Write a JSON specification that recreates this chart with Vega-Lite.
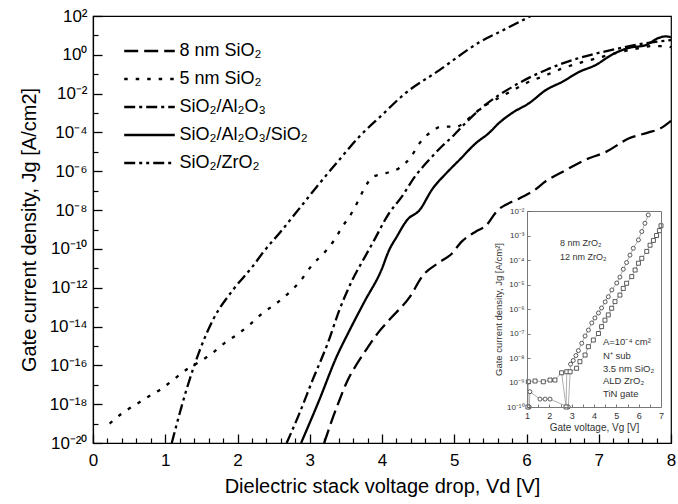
{
  "$schema": "https://vega.github.io/schema/vega-lite/v6.json",
  "width": 578,
  "height": 427,
  "autosize": {"type": "none"},
  "padding": {"left": 93, "top": 16, "right": 7, "bottom": 61},
  "config": {
    "font": "Liberation Sans",
    "view": {"stroke": "black", "strokeWidth": 1.2},
    "axis": {"grid": false, "domainColor": "black", "labelColor": "black", "titleColor": "black", "titleFontWeight": "normal", "labelFont": "Liberation Sans", "titleFont": "Liberation Sans"},
    "legend": {"labelFont": "Liberation Sans", "labelColor": "black"}
  },
  "datasets": {
    "main": [
      {"s": "8 nm SiO₂", "V": 3.2, "J": 1e-20}, {"s": "8 nm SiO₂", "V": 3.3, "J": 1.26e-19}, {"s": "8 nm SiO₂", "V": 3.41, "J": 1.58e-18}, {"s": "8 nm SiO₂", "V": 3.52, "J": 1.58e-17}, {"s": "8 nm SiO₂", "V": 3.64, "J": 1e-16}, {"s": "8 nm SiO₂", "V": 3.78, "J": 6.31e-16}, {"s": "8 nm SiO₂", "V": 3.95, "J": 5.01e-15}, {"s": "8 nm SiO₂", "V": 4.14, "J": 3.16e-14}, {"s": "8 nm SiO₂", "V": 4.38, "J": 3.16e-13}, {"s": "8 nm SiO₂", "V": 4.56, "J": 3.98e-12}, {"s": "8 nm SiO₂", "V": 4.79, "J": 2e-11}, {"s": "8 nm SiO₂", "V": 4.95, "J": 5.01e-11}, {"s": "8 nm SiO₂", "V": 5.11, "J": 2.51e-10}, {"s": "8 nm SiO₂", "V": 5.3, "J": 7.94e-10}, {"s": "8 nm SiO₂", "V": 5.44, "J": 1.58e-9}, {"s": "8 nm SiO₂", "V": 5.58, "J": 7.94e-9}, {"s": "8 nm SiO₂", "V": 5.9, "J": 3.98e-8}, {"s": "8 nm SiO₂", "V": 6.1, "J": 1e-7}, {"s": "8 nm SiO₂", "V": 6.27, "J": 3.16e-7}, {"s": "8 nm SiO₂", "V": 6.49, "J": 8.91e-7}, {"s": "8 nm SiO₂", "V": 6.82, "J": 3.98e-6}, {"s": "8 nm SiO₂", "V": 7.1, "J": 1e-5}, {"s": "8 nm SiO₂", "V": 7.42, "J": 5.01e-5}, {"s": "8 nm SiO₂", "V": 7.69, "J": 1e-4}, {"s": "8 nm SiO₂", "V": 7.85, "J": 1.58e-4}, {"s": "8 nm SiO₂", "V": 8.0, "J": 3.98e-4},
      {"s": "5 nm SiO₂", "V": 0.23, "J": 1e-19}, {"s": "5 nm SiO₂", "V": 0.41, "J": 3.55e-19}, {"s": "5 nm SiO₂", "V": 0.6, "J": 1e-18}, {"s": "5 nm SiO₂", "V": 0.77, "J": 2.51e-18}, {"s": "5 nm SiO₂", "V": 0.95, "J": 6.31e-18}, {"s": "5 nm SiO₂", "V": 1.11, "J": 1.78e-17}, {"s": "5 nm SiO₂", "V": 1.3, "J": 6.31e-17}, {"s": "5 nm SiO₂", "V": 1.48, "J": 1.58e-16}, {"s": "5 nm SiO₂", "V": 1.64, "J": 3.98e-16}, {"s": "5 nm SiO₂", "V": 1.82, "J": 1.41e-15}, {"s": "5 nm SiO₂", "V": 2.0, "J": 3.98e-15}, {"s": "5 nm SiO₂", "V": 2.17, "J": 1.26e-14}, {"s": "5 nm SiO₂", "V": 2.35, "J": 5.01e-14}, {"s": "5 nm SiO₂", "V": 2.54, "J": 1.58e-13}, {"s": "5 nm SiO₂", "V": 2.7, "J": 5.01e-13}, {"s": "5 nm SiO₂", "V": 2.86, "J": 2e-12}, {"s": "5 nm SiO₂", "V": 3.04, "J": 1.58e-11}, {"s": "5 nm SiO₂", "V": 3.2, "J": 6.31e-11}, {"s": "5 nm SiO₂", "V": 3.34, "J": 2.88e-10}, {"s": "5 nm SiO₂", "V": 3.45, "J": 1.35e-9}, {"s": "5 nm SiO₂", "V": 3.58, "J": 7.08e-9}, {"s": "5 nm SiO₂", "V": 3.66, "J": 2.51e-8}, {"s": "5 nm SiO₂", "V": 3.76, "J": 1.38e-7}, {"s": "5 nm SiO₂", "V": 3.87, "J": 5.01e-7}, {"s": "5 nm SiO₂", "V": 4.06, "J": 8.13e-7}, {"s": "5 nm SiO₂", "V": 4.24, "J": 1.48e-6}, {"s": "5 nm SiO₂", "V": 4.4, "J": 5.5e-6}, {"s": "5 nm SiO₂", "V": 4.52, "J": 2.82e-5}, {"s": "5 nm SiO₂", "V": 4.68, "J": 1.07e-4}, {"s": "5 nm SiO₂", "V": 4.83, "J": 2e-4}, {"s": "5 nm SiO₂", "V": 5.03, "J": 2e-4}, {"s": "5 nm SiO₂", "V": 5.21, "J": 5.62e-4}, {"s": "5 nm SiO₂", "V": 5.39, "J": 2e-3}, {"s": "5 nm SiO₂", "V": 5.6, "J": 5.62e-3}, {"s": "5 nm SiO₂", "V": 5.8, "J": 1.41e-2}, {"s": "5 nm SiO₂", "V": 6.0, "J": 3.55e-2}, {"s": "5 nm SiO₂", "V": 6.27, "J": 8.91e-2}, {"s": "5 nm SiO₂", "V": 6.5, "J": 0.2}, {"s": "5 nm SiO₂", "V": 6.75, "J": 0.398}, {"s": "5 nm SiO₂", "V": 7.0, "J": 0.708}, {"s": "5 nm SiO₂", "V": 7.25, "J": 1.26}, {"s": "5 nm SiO₂", "V": 7.5, "J": 2.0}, {"s": "5 nm SiO₂", "V": 7.75, "J": 2.82}, {"s": "5 nm SiO₂", "V": 7.9, "J": 2.82}, {"s": "5 nm SiO₂", "V": 8.0, "J": 2.51},
      {"s": "SiO₂/Al₂O₃", "V": 2.68, "J": 1e-20}, {"s": "SiO₂/Al₂O₃", "V": 2.86, "J": 3.55e-19}, {"s": "SiO₂/Al₂O₃", "V": 3.04, "J": 1.78e-17}, {"s": "SiO₂/Al₂O₃", "V": 3.25, "J": 1.41e-15}, {"s": "SiO₂/Al₂O₃", "V": 3.41, "J": 7.08e-14}, {"s": "SiO₂/Al₂O₃", "V": 3.59, "J": 2.51e-12}, {"s": "SiO₂/Al₂O₃", "V": 3.75, "J": 3.16e-11}, {"s": "SiO₂/Al₂O₃", "V": 3.87, "J": 2e-10}, {"s": "SiO₂/Al₂O₃", "V": 4.1, "J": 7.08e-9}, {"s": "SiO₂/Al₂O₃", "V": 4.27, "J": 4.68e-8}, {"s": "SiO₂/Al₂O₃", "V": 4.47, "J": 6.31e-7}, {"s": "SiO₂/Al₂O₃", "V": 4.65, "J": 3.8e-6}, {"s": "SiO₂/Al₂O₃", "V": 4.82, "J": 1.78e-5}, {"s": "SiO₂/Al₂O₃", "V": 4.97, "J": 5.89e-5}, {"s": "SiO₂/Al₂O₃", "V": 5.17, "J": 3.47e-4}, {"s": "SiO₂/Al₂O₃", "V": 5.39, "J": 2e-3}, {"s": "SiO₂/Al₂O₃", "V": 5.8, "J": 2.19e-2}, {"s": "SiO₂/Al₂O₃", "V": 6.27, "J": 0.166}, {"s": "SiO₂/Al₂O₃", "V": 6.73, "J": 0.692}, {"s": "SiO₂/Al₂O₃", "V": 7.18, "J": 1.78}, {"s": "SiO₂/Al₂O₃", "V": 7.65, "J": 3.98}, {"s": "SiO₂/Al₂O₃", "V": 8.0, "J": 5.75},
      {"s": "SiO₂/Al₂O₃/SiO₂", "V": 2.88, "J": 1e-20}, {"s": "SiO₂/Al₂O₃/SiO₂", "V": 3.13, "J": 1.58e-18}, {"s": "SiO₂/Al₂O₃/SiO₂", "V": 3.37, "J": 2.69e-16}, {"s": "SiO₂/Al₂O₃/SiO₂", "V": 3.55, "J": 6.31e-15}, {"s": "SiO₂/Al₂O₃/SiO₂", "V": 3.76, "J": 2e-13}, {"s": "SiO₂/Al₂O₃/SiO₂", "V": 3.99, "J": 7.94e-12}, {"s": "SiO₂/Al₂O₃/SiO₂", "V": 4.1, "J": 8.91e-11}, {"s": "SiO₂/Al₂O₃/SiO₂", "V": 4.2, "J": 3.98e-10}, {"s": "SiO₂/Al₂O₃/SiO₂", "V": 4.35, "J": 3.16e-9}, {"s": "SiO₂/Al₂O₃/SiO₂", "V": 4.52, "J": 1e-8}, {"s": "SiO₂/Al₂O₃/SiO₂", "V": 4.7, "J": 1.26e-7}, {"s": "SiO₂/Al₂O₃/SiO₂", "V": 4.89, "J": 7.94e-7}, {"s": "SiO₂/Al₂O₃/SiO₂", "V": 5.07, "J": 3.8e-6}, {"s": "SiO₂/Al₂O₃/SiO₂", "V": 5.3, "J": 2.82e-5}, {"s": "SiO₂/Al₂O₃/SiO₂", "V": 5.48, "J": 9.33e-5}, {"s": "SiO₂/Al₂O₃/SiO₂", "V": 5.62, "J": 3.09e-4}, {"s": "SiO₂/Al₂O₃/SiO₂", "V": 5.8, "J": 1e-3}, {"s": "SiO₂/Al₂O₃/SiO₂", "V": 6.04, "J": 3.31e-3}, {"s": "SiO₂/Al₂O₃/SiO₂", "V": 6.27, "J": 1.55e-2}, {"s": "SiO₂/Al₂O₃/SiO₂", "V": 6.49, "J": 3.98e-2}, {"s": "SiO₂/Al₂O₃/SiO₂", "V": 6.73, "J": 0.132}, {"s": "SiO₂/Al₂O₃/SiO₂", "V": 6.96, "J": 0.302}, {"s": "SiO₂/Al₂O₃/SiO₂", "V": 7.18, "J": 1.0}, {"s": "SiO₂/Al₂O₃/SiO₂", "V": 7.41, "J": 2.24}, {"s": "SiO₂/Al₂O₃/SiO₂", "V": 7.65, "J": 3.16}, {"s": "SiO₂/Al₂O₃/SiO₂", "V": 7.83, "J": 7.41}, {"s": "SiO₂/Al₂O₃/SiO₂", "V": 7.93, "J": 8.91}, {"s": "SiO₂/Al₂O₃/SiO₂", "V": 8.0, "J": 7.94},
      {"s": "SiO₂/ZrO₂", "V": 1.09, "J": 1e-20}, {"s": "SiO₂/ZrO₂", "V": 1.29, "J": 5.01e-18}, {"s": "SiO₂/ZrO₂", "V": 1.48, "J": 6.31e-16}, {"s": "SiO₂/ZrO₂", "V": 1.66, "J": 2.19e-14}, {"s": "SiO₂/ZrO₂", "V": 1.94, "J": 7.94e-13}, {"s": "SiO₂/ZrO₂", "V": 2.21, "J": 1.26e-11}, {"s": "SiO₂/ZrO₂", "V": 2.35, "J": 6.31e-11}, {"s": "SiO₂/ZrO₂", "V": 2.6, "J": 7.94e-10}, {"s": "SiO₂/ZrO₂", "V": 2.86, "J": 1.26e-8}, {"s": "SiO₂/ZrO₂", "V": 3.14, "J": 2.51e-7}, {"s": "SiO₂/ZrO₂", "V": 3.41, "J": 3.98e-6}, {"s": "SiO₂/ZrO₂", "V": 3.69, "J": 6.31e-5}, {"s": "SiO₂/ZrO₂", "V": 4.0, "J": 7.94e-4}, {"s": "SiO₂/ZrO₂", "V": 4.3, "J": 8.91e-3}, {"s": "SiO₂/ZrO₂", "V": 4.79, "J": 0.158}, {"s": "SiO₂/ZrO₂", "V": 5.35, "J": 4.47}, {"s": "SiO₂/ZrO₂", "V": 5.72, "J": 22.4}, {"s": "SiO₂/ZrO₂", "V": 6.06, "J": 100}
    ],
    "inset": [
      {"s": "8 nm ZrO₂", "V": 1.1, "J": 1e-10}, {"s": "8 nm ZrO₂", "V": 1.13, "J": 4.2e-10}, {"s": "8 nm ZrO₂", "V": 1.58, "J": 2.1e-10}, {"s": "8 nm ZrO₂", "V": 1.81, "J": 2.1e-10}, {"s": "8 nm ZrO₂", "V": 2.03, "J": 2.1e-10}, {"s": "8 nm ZrO₂", "V": 2.85, "J": 1e-10}, {"s": "8 nm ZrO₂", "V": 2.95, "J": 5.6e-9}, {"s": "8 nm ZrO₂", "V": 3.07, "J": 7.9e-9}, {"s": "8 nm ZrO₂", "V": 3.19, "J": 1.26e-8}, {"s": "8 nm ZrO₂", "V": 3.3, "J": 2e-8}, {"s": "8 nm ZrO₂", "V": 3.45, "J": 4e-8}, {"s": "8 nm ZrO₂", "V": 3.6, "J": 7.9e-8}, {"s": "8 nm ZrO₂", "V": 3.75, "J": 1.38e-7}, {"s": "8 nm ZrO₂", "V": 3.9, "J": 2.7e-7}, {"s": "8 nm ZrO₂", "V": 4.04, "J": 4.3e-7}, {"s": "8 nm ZrO₂", "V": 4.2, "J": 6.9e-7}, {"s": "8 nm ZrO₂", "V": 4.34, "J": 1.1e-6}, {"s": "8 nm ZrO₂", "V": 4.5, "J": 1.95e-6}, {"s": "8 nm ZrO₂", "V": 4.64, "J": 3.16e-6}, {"s": "8 nm ZrO₂", "V": 4.8, "J": 6e-6}, {"s": "8 nm ZrO₂", "V": 5.02, "J": 1.15e-5}, {"s": "8 nm ZrO₂", "V": 5.16, "J": 2e-5}, {"s": "8 nm ZrO₂", "V": 5.31, "J": 4.2e-5}, {"s": "8 nm ZrO₂", "V": 5.46, "J": 7.9e-5}, {"s": "8 nm ZrO₂", "V": 5.61, "J": 1.58e-4}, {"s": "8 nm ZrO₂", "V": 5.76, "J": 3e-4}, {"s": "8 nm ZrO₂", "V": 5.99, "J": 6.6e-4}, {"s": "8 nm ZrO₂", "V": 6.14, "J": 1.45e-3}, {"s": "8 nm ZrO₂", "V": 6.28, "J": 3.16e-3}, {"s": "8 nm ZrO₂", "V": 6.43, "J": 6.9e-3},
      {"s": "12 nm ZrO₂", "V": 1.04, "J": 1e-10}, {"s": "12 nm ZrO₂", "V": 1.06, "J": 1.07e-9}, {"s": "12 nm ZrO₂", "V": 1.36, "J": 1.15e-9}, {"s": "12 nm ZrO₂", "V": 1.73, "J": 1.07e-9}, {"s": "12 nm ZrO₂", "V": 2.03, "J": 1.26e-9}, {"s": "12 nm ZrO₂", "V": 2.25, "J": 1.26e-9}, {"s": "12 nm ZrO₂", "V": 2.55, "J": 2.5e-9}, {"s": "12 nm ZrO₂", "V": 2.75, "J": 1e-10}, {"s": "12 nm ZrO₂", "V": 2.78, "J": 2.75e-9}, {"s": "12 nm ZrO₂", "V": 2.93, "J": 2.75e-9}, {"s": "12 nm ZrO₂", "V": 3.22, "J": 3.8e-9}, {"s": "12 nm ZrO₂", "V": 3.37, "J": 7.1e-9}, {"s": "12 nm ZrO₂", "V": 3.6, "J": 1.32e-8}, {"s": "12 nm ZrO₂", "V": 3.75, "J": 2.9e-8}, {"s": "12 nm ZrO₂", "V": 3.97, "J": 5.4e-8}, {"s": "12 nm ZrO₂", "V": 4.2, "J": 1e-7}, {"s": "12 nm ZrO₂", "V": 4.34, "J": 1.9e-7}, {"s": "12 nm ZrO₂", "V": 4.49, "J": 3.5e-7}, {"s": "12 nm ZrO₂", "V": 4.64, "J": 5.75e-7}, {"s": "12 nm ZrO₂", "V": 4.79, "J": 1.07e-6}, {"s": "12 nm ZrO₂", "V": 4.94, "J": 2e-6}, {"s": "12 nm ZrO₂", "V": 5.16, "J": 3.7e-6}, {"s": "12 nm ZrO₂", "V": 5.31, "J": 6.9e-6}, {"s": "12 nm ZrO₂", "V": 5.46, "J": 1.12e-5}, {"s": "12 nm ZrO₂", "V": 5.69, "J": 2.1e-5}, {"s": "12 nm ZrO₂", "V": 5.84, "J": 3.9e-5}, {"s": "12 nm ZrO₂", "V": 5.99, "J": 7.4e-5}, {"s": "12 nm ZrO₂", "V": 6.14, "J": 1.17e-4}, {"s": "12 nm ZrO₂", "V": 6.36, "J": 2.24e-4}, {"s": "12 nm ZrO₂", "V": 6.51, "J": 4e-4}, {"s": "12 nm ZrO₂", "V": 6.66, "J": 6.3e-4}, {"s": "12 nm ZrO₂", "V": 6.8, "J": 1e-3}, {"s": "12 nm ZrO₂", "V": 6.93, "J": 1.58e-3}, {"s": "12 nm ZrO₂", "V": 7.0, "J": 2.5e-3}
    ],
    "notes": [
      {"t": "A=10⁻⁴ cm²", "V": 4.4, "J": 4.47e-8},
      {"t": "N⁺ sub", "V": 4.4, "J": 1.26e-8},
      {"t": "3.5 nm SiO₂", "V": 4.4, "J": 3.55e-9},
      {"t": "ALD ZrO₂", "V": 4.4, "J": 1.12e-9},
      {"t": "TiN gate", "V": 4.4, "J": 3.55e-10}
    ]
  },
  "layer": [
    {
      "data": {"name": "main"},
      "mark": {"type": "line", "color": "black", "strokeWidth": 2.3, "interpolate": "monotone", "clip": true},
      "encoding": {
        "x": {
          "field": "V", "type": "quantitative",
          "scale": {"domain": [0, 8], "nice": false, "zero": false},
          "axis": {
            "orient": "bottom",
            "title": "Dielectric stack voltage drop, Vd [V]",
            "values": [0, 1, 2, 3, 4, 5, 6, 7, 8],
            "format": "d",
            "labelOverlap": false, "labelFlush": false,
            "tickSize": -9, "tickWidth": 1.3, "tickColor": "black", "domainWidth": 1.2,
            "labelPadding": 18, "labelFontSize": 17, "titleFontSize": 20, "titlePadding": 8
          }
        },
        "y": {
          "field": "J", "type": "quantitative",
          "scale": {"type": "log", "domain": [1e-20, 100], "nice": false},
          "axis": {
            "orient": "left",
            "title": "Gate current density, Jg [A/cm2]",
            "values": [1e-20, 1e-18, 1e-16, 1e-14, 1e-12, 1e-10, 1e-8, 1e-6, 1e-4, 1e-2, 1, 100],
            "labelExpr": "'10' + (round(log(datum.value)/LN10) < 0 ? '⁻' : '') + (abs(round(log(datum.value)/LN10)) >= 10 ? substring('⁰¹²³⁴⁵⁶⁷⁸⁹', floor(abs(round(log(datum.value)/LN10))/10), floor(abs(round(log(datum.value)/LN10))/10) + 1) : '') + substring('⁰¹²³⁴⁵⁶⁷⁸⁹', abs(round(log(datum.value)/LN10)) % 10, abs(round(log(datum.value)/LN10)) % 10 + 1)",
            "labelOverlap": false, "labelFlush": false,
            "tickSize": -9, "tickWidth": 1.3, "tickColor": "black", "domainWidth": 1.2,
            "labelPadding": 15, "labelFontSize": 17, "titleFontSize": 20, "titlePadding": 10
          }
        },
        "strokeDash": {
          "field": "s", "type": "nominal",
          "scale": {"domain": ["8 nm SiO₂", "5 nm SiO₂", "SiO₂/Al₂O₃", "SiO₂/Al₂O₃/SiO₂", "SiO₂/ZrO₂"], "range": [[14, 6], [3.5, 8], [11, 4, 3, 4], [1, 0], [11, 4, 3, 4, 3, 4]]},
          "legend": {"orient": "none", "legendX": 39.5, "legendY": 18, "title": null, "padding": 0, "symbolType": "M-1.6,0H1.6", "symbolSize": 1000, "symbolStrokeWidth": 2.3, "symbolStrokeColor": "black", "labelFontSize": 18, "labelOffset": 13}
        }
      }
    },
    {
      "data": {"name": "main"},
      "mark": {"type": "line", "opacity": 0},
      "encoding": {
        "x": {
          "field": "V", "type": "quantitative",
          "scale": {"domain": [0, 8], "nice": false, "zero": false},
          "axis": {"orient": "bottom", "title": null, "labels": false, "domain": false, "values": [0.2, 0.4, 0.6, 0.8, 1.2, 1.4, 1.6, 1.8, 2.2, 2.4, 2.6, 2.8, 3.2, 3.4, 3.6, 3.8, 4.2, 4.4, 4.6, 4.8, 5.2, 5.4, 5.6, 5.8, 6.2, 6.4, 6.6, 6.8, 7.2, 7.4, 7.6, 7.8], "tickSize": -5, "tickWidth": 1.2, "tickColor": "black"}
        },
        "y": {
          "field": "J", "type": "quantitative",
          "scale": {"type": "log", "domain": [1e-20, 100], "nice": false},
          "axis": {"orient": "left", "title": null, "labels": false, "domain": false, "values": [1e-19, 1e-17, 1e-15, 1e-13, 1e-11, 1e-9, 1e-7, 1e-5, 1e-3, 1e-1, 10], "tickSize": -5, "tickWidth": 1.2, "tickColor": "black"}
        },
        "detail": {"field": "s", "type": "nominal"}
      }
    },
    {
      "data": {"name": "inset"},
      "mark": {"type": "line", "stroke": "#999", "strokeWidth": 0.8},
      "encoding": {
        "x": {
          "field": "V", "type": "quantitative",
          "scale": {"domain": [1, 7], "range": [434, 568], "nice": false, "zero": false},
          "axis": {
            "orient": "bottom", "offset": -36, "zindex": 1,
            "title": "Gate voltage, Vg [V]",
            "values": [1, 1.5, 2, 2.5, 3, 3.5, 4, 4.5, 5, 5.5, 6, 6.5, 7],
            "labelExpr": "datum.value % 1 == 0 ? format(datum.value, 'd') : ''",
            "labelOverlap": false, "labelFlush": false,
            "tickSize": -3, "tickWidth": 0.8, "tickColor": "#555",
            "domainColor": "#777",
            "labelPadding": 7, "labelFontSize": 9, "labelColor": "#333", "titleFontSize": 10, "titleColor": "#333", "titlePadding": 2
          }
        },
        "y": {
          "field": "J", "type": "quantitative",
          "scale": {"type": "log", "domain": [1e-10, 1e-2], "range": [391, 195], "nice": false},
          "axis": {
            "orient": "left", "offset": -434, "zindex": 1,
            "title": "Gate current density, Jg [A/cm²]",
            "values": [1e-10, 1e-9, 1e-8, 1e-7, 1e-6, 1e-5, 1e-4, 1e-3, 1e-2],
            "labelExpr": "'10' + (round(log(datum.value)/LN10) < 0 ? '⁻' : '') + (abs(round(log(datum.value)/LN10)) >= 10 ? substring('⁰¹²³⁴⁵⁶⁷⁸⁹', floor(abs(round(log(datum.value)/LN10))/10), floor(abs(round(log(datum.value)/LN10))/10) + 1) : '') + substring('⁰¹²³⁴⁵⁶⁷⁸⁹', abs(round(log(datum.value)/LN10)) % 10, abs(round(log(datum.value)/LN10)) % 10 + 1)",
            "labelOverlap": false, "labelFlush": false,
            "tickSize": -3, "tickWidth": 0.8, "tickColor": "#555",
            "domainColor": "#777",
            "labelPadding": 6, "labelFontSize": 8, "labelColor": "#333", "titleFontSize": 9.5, "titleColor": "#333", "titlePadding": 3
          }
        },
        "detail": {"field": "s", "type": "nominal"}
      }
    },
    {
      "data": {"name": "inset"},
      "mark": {"type": "point", "filled": false, "color": "#333", "fill": "white", "strokeWidth": 0.8, "size": 16, "opacity": 1},
      "encoding": {
        "x": {"field": "V", "type": "quantitative", "scale": {"domain": [1, 7], "range": [434, 568], "nice": false, "zero": false}, "axis": null},
        "y": {"field": "J", "type": "quantitative", "scale": {"type": "log", "domain": [1e-10, 1e-2], "range": [391, 195], "nice": false}, "axis": null},
        "shape": {
          "field": "s", "type": "nominal",
          "scale": {"domain": ["8 nm ZrO₂", "12 nm ZrO₂"], "range": ["circle", "square"]},
          "legend": {"orient": "none", "legendX": 446, "legendY": 222, "title": null, "padding": 0, "symbolSize": 25, "symbolStrokeColor": "#333", "symbolStrokeWidth": 0.9, "labelFontSize": 9, "labelColor": "#333", "labelOffset": 12, "rowPadding": 4}
        }
      }
    },
    {
      "data": {"name": "notes"},
      "mark": {"type": "text", "align": "left", "baseline": "middle", "fontSize": 9.5, "color": "#333"},
      "encoding": {
        "x": {
          "field": "V", "type": "quantitative",
          "scale": {"domain": [1, 7], "range": [434, 568], "nice": false, "zero": false},
          "axis": {"orient": "top", "offset": -195, "zindex": 1, "title": null, "labels": false, "values": [], "domainColor": "#777"}
        },
        "y": {
          "field": "J", "type": "quantitative",
          "scale": {"type": "log", "domain": [1e-10, 1e-2], "range": [391, 195], "nice": false},
          "axis": {"orient": "right", "offset": -10, "zindex": 1, "title": null, "labels": false, "values": [], "domainColor": "#777"}
        },
        "text": {"field": "t", "type": "nominal"}
      }
    }
  ],
  "resolve": {"scale": {"x": "independent", "y": "independent"}, "axis": {"x": "independent", "y": "independent"}}
}
